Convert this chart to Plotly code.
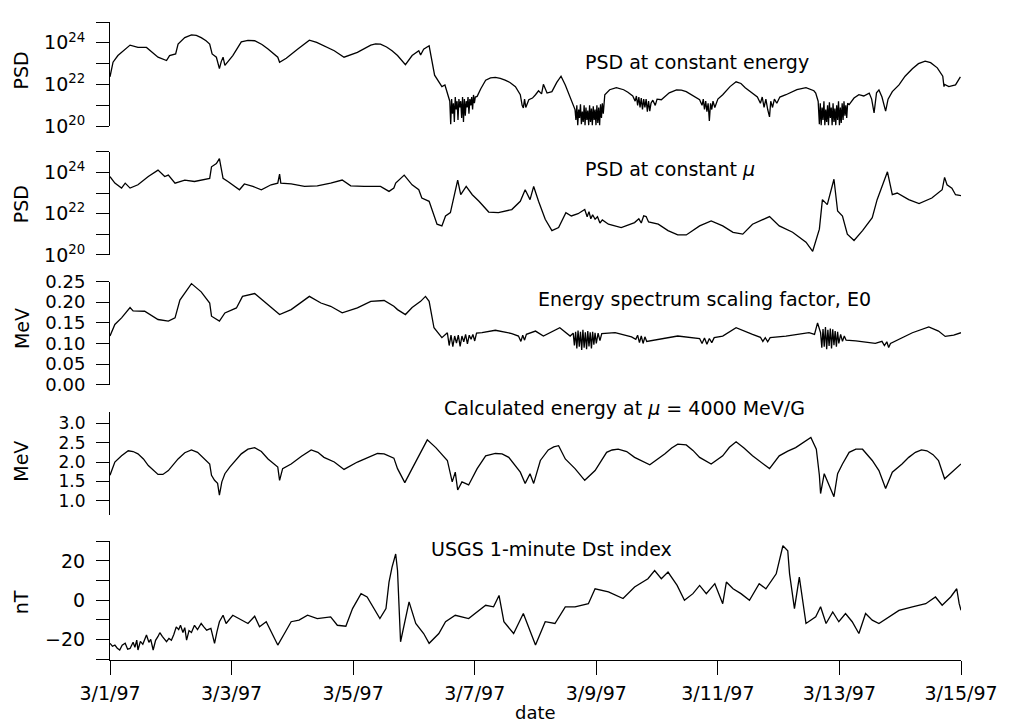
import pandas as pd
import plotly.graph_objects as go

# ---------------- data (days after 1997-03-01 00:00) ----------------
psd_e_days = [0.00, 0.05, 0.13, 0.33, 0.46, 0.60, 0.79, 0.93, 0.98, 1.08, 1.12, 1.23, 1.34, 1.42, 1.50, 1.58,
              1.64, 1.68, 1.75, 1.80, 1.83, 1.86, 1.89, 2.02, 2.16, 2.27, 2.38, 2.50, 2.60, 2.76, 2.79, 2.90,
              3.09, 3.28, 3.40, 3.52, 3.69, 3.85, 4.07, 4.29, 4.37, 4.45, 4.55, 4.64, 4.73, 4.86, 4.97, 5.08,
              5.11, 5.16, 5.25, 5.34, 5.46, 5.51, 5.57,
              5.590, 5.605, 5.620, 5.635, 5.650, 5.665, 5.680, 5.695, 5.710, 5.725, 5.740, 5.755, 5.770, 5.785,
              5.800, 5.815, 5.830, 5.845, 5.860, 5.875, 5.890, 5.905, 5.920, 5.935, 5.950, 5.965, 5.980, 5.995,
              6.010,
              6.04, 6.10, 6.18, 6.26, 6.34, 6.42, 6.50, 6.58, 6.67, 6.75, 6.78, 6.80, 6.82, 6.84, 6.89, 6.95,
              7.00, 7.05, 7.10, 7.13, 7.19, 7.27, 7.35, 7.42, 7.49, 7.57, 7.65,
              7.665, 7.680, 7.695, 7.710, 7.725, 7.740, 7.755, 7.770, 7.785, 7.800, 7.815, 7.830, 7.845, 7.860,
              7.875, 7.890, 7.905, 7.920, 7.935, 7.950, 7.965, 7.980, 7.995, 8.010, 8.025, 8.040, 8.055, 8.070,
              8.085, 8.100, 8.115,
              8.14, 8.22, 8.33, 8.45, 8.52, 8.60, 8.64, 8.66, 8.68, 8.70, 8.72, 8.74, 8.76, 8.78, 8.80, 8.82,
              8.84, 8.86, 8.88, 8.90, 8.93, 8.97, 9.00, 9.07, 9.20, 9.32, 9.40, 9.48, 9.60, 9.70, 9.74, 9.76,
              9.78, 9.80, 9.82, 9.84, 9.86, 9.88, 9.90, 9.92, 9.95, 10.00, 10.08, 10.20, 10.30, 10.38, 10.45,
              10.57, 10.65, 10.70, 10.73, 10.76, 10.79, 10.82, 10.85, 10.87, 10.90, 10.93, 10.97, 11.02, 11.12,
              11.30, 11.45, 11.58, 11.61, 11.65, 11.67,
              11.685, 11.700, 11.715, 11.730, 11.745, 11.760, 11.775, 11.790, 11.805, 11.820, 11.835, 11.850,
              11.865, 11.880, 11.895, 11.910, 11.925, 11.940, 11.955, 11.970, 11.985, 12.000, 12.015, 12.030,
              12.045, 12.060, 12.075, 12.090, 12.105, 12.120, 12.135,
              12.16, 12.24, 12.32, 12.40, 12.49, 12.53, 12.57, 12.61, 12.65, 12.70, 12.76, 12.80, 12.87, 12.98,
              13.08, 13.20, 13.30, 13.41, 13.50, 13.61, 13.70, 13.72, 13.73, 13.80, 13.85, 13.91, 13.99]
psd_e_log10 = [22.37, 23.07, 23.39, 23.89, 23.78, 23.78, 23.31, 23.15, 23.39, 23.47, 23.94, 24.25, 24.38, 24.36, 24.25, 24.10,
               23.94, 23.47, 23.31, 22.76, 23.10, 23.31, 22.92, 23.39, 24.05, 24.12, 24.10, 23.92, 23.70, 23.31, 23.07, 23.26,
               23.70, 24.13, 24.02, 23.86, 23.62, 23.31, 23.54, 23.89, 23.95, 23.94, 23.80, 23.62, 23.39, 22.95, 23.39, 23.62,
               23.42, 23.70, 23.86, 22.45, 21.90, 21.98, 21.43,
               21.20, 20.10, 21.30, 20.60, 21.10, 20.20, 21.40, 20.80, 21.20, 20.30, 21.30, 20.90, 21.20, 20.40,
               21.40, 20.20, 21.30, 20.50, 21.20, 20.90, 21.40, 20.60, 21.30, 21.00, 21.40, 20.80, 21.50, 21.10,
               21.40,
               21.43, 21.80, 22.21, 22.32, 22.34, 22.30, 22.21, 22.10, 21.90, 21.51, 21.00, 20.88, 21.30, 20.90, 21.27, 21.35,
               21.51, 21.70, 21.55, 22.01, 21.59, 21.66, 22.10, 22.40, 21.98, 21.35, 20.80,
               20.30, 21.00, 20.05, 20.80, 20.40, 21.05, 20.10, 20.70, 20.20, 21.00, 20.05, 20.90, 20.30, 20.75,
               20.05, 21.00, 20.20, 20.85, 20.05, 20.95, 20.30, 20.80, 20.05, 21.00, 20.15, 20.90, 20.05, 21.05,
               20.40, 21.10, 20.60,
               21.51, 21.75, 21.85, 21.75, 21.63, 21.45, 21.20, 21.45, 21.00, 21.40, 20.90, 21.35, 20.80, 21.30, 20.90, 21.30,
               20.70, 21.20, 20.72, 21.10, 21.25, 21.00, 21.30, 21.27, 21.60, 21.74, 21.73, 21.66, 21.45, 21.27, 21.00, 21.30,
               20.80, 21.20, 20.70, 21.10, 20.25, 21.10, 20.80, 21.20, 20.90, 21.30, 21.51, 21.90, 22.13, 22.05, 21.85,
               21.59, 21.40, 21.10, 21.40, 20.90, 21.30, 20.80, 20.45, 21.20, 20.90, 21.30, 21.10, 21.40, 21.51,
               21.75, 21.85, 21.70, 21.59, 21.20, 20.09,
               21.10, 20.05, 20.90, 20.30, 21.20, 20.05, 20.80, 20.20, 21.00, 20.05, 21.15, 20.40,
               20.90, 20.05, 21.10, 20.20, 20.85, 20.05, 21.00, 20.30, 21.20, 20.05, 20.90, 20.15,
               21.10, 20.30, 21.20, 20.50, 21.00, 20.40, 21.10,
               21.04, 21.35, 21.51, 21.45, 21.59, 21.30, 20.64, 21.60, 21.74, 21.40, 20.72, 21.30, 21.66, 21.98,
               22.40, 22.76, 23.00, 23.12, 23.05, 22.80, 22.40, 21.90, 22.00, 21.90, 21.95, 21.98, 22.37]

psd_mu_days = [0.00, 0.08, 0.19, 0.25, 0.33, 0.46, 0.63, 0.79, 0.90, 0.96, 1.07, 1.23, 1.39, 1.64, 1.67, 1.75,
               1.80, 1.83, 1.86, 1.94, 2.02, 2.13, 2.21, 2.35, 2.49, 2.65, 2.76, 2.79, 2.81, 2.98, 3.20, 3.41,
               3.63, 3.82, 3.96, 4.18, 4.45, 4.59, 4.67, 4.70, 4.84, 4.97, 5.08, 5.13, 5.25, 5.38, 5.46, 5.52,
               5.60, 5.66, 5.72, 5.77, 5.86, 5.96, 6.07, 6.23, 6.39, 6.61, 6.75, 6.83, 6.91, 6.97, 7.05, 7.16,
               7.27, 7.38, 7.50, 7.59, 7.70, 7.81, 7.85, 7.88, 7.91, 7.94, 7.98, 8.02, 8.06, 8.10, 8.20, 8.41,
               8.63, 8.70, 8.74, 8.78, 8.82, 8.86, 9.02, 9.18, 9.34, 9.48, 9.70, 9.89, 10.08, 10.25, 10.41, 10.57,
               10.85, 11.01, 11.23, 11.45, 11.56, 11.67, 11.72, 11.80, 11.91, 11.97, 12.05, 12.13, 12.24, 12.38,
               12.54, 12.62, 12.70, 12.79, 12.87, 12.95, 13.14, 13.31, 13.52, 13.69, 13.73, 13.77, 13.85, 13.91,
               14.00]
psd_mu_log10 = [23.80, 23.48, 23.24, 23.48, 23.24, 23.40, 23.80, 24.11, 23.80, 23.87, 23.48, 23.63, 23.56, 23.71, 24.27, 24.43,
                24.67, 24.27, 23.71, 23.56, 23.40, 23.16, 23.44, 23.32, 23.16, 23.40, 23.48, 23.92, 23.48, 23.44, 23.32, 23.35,
                23.48, 23.63, 23.35, 23.32, 23.32, 23.08, 23.24, 23.48, 23.87, 23.40, 23.16, 22.76, 22.60, 21.49, 21.41, 21.89,
                22.05, 22.92, 23.63, 22.92, 23.32, 22.92, 22.60, 22.08, 22.05, 22.20, 22.60, 23.16, 22.68, 23.32, 22.60, 21.73,
                21.18, 21.33, 22.05, 21.89, 22.00, 22.20, 21.85, 22.10, 21.75, 21.95, 21.73, 21.85, 21.55, 21.70, 21.49, 21.33,
                21.57, 21.75, 21.55, 21.90, 21.86, 21.60, 21.49, 21.18, 20.97, 20.97, 21.41, 21.65, 21.41, 21.10, 21.01, 21.49,
                21.86, 21.41, 21.10, 20.62, 20.18, 21.25, 22.68, 22.44, 23.67, 22.13, 21.89, 21.01, 20.70, 21.18,
                21.81, 22.68, 23.32, 24.03, 22.92, 23.00, 22.68, 22.49, 22.76, 23.16, 23.76, 23.40, 23.24, 22.92,
                22.87]

e0_days = [0.00, 0.08, 0.19, 0.33, 0.38, 0.57, 0.79, 0.96, 1.07, 1.15, 1.34, 1.50, 1.64, 1.67, 1.80, 1.89,
           2.08, 2.18, 2.38, 2.57, 2.79, 2.98, 3.28, 3.47, 3.63, 3.82, 4.07, 4.29, 4.51, 4.67, 4.73, 4.86,
           4.97, 5.11, 5.19, 5.25, 5.33, 5.46, 5.55,
           5.58, 5.61, 5.64, 5.67, 5.70, 5.73, 5.76, 5.79, 5.82, 5.85, 5.88, 5.91, 5.94, 5.97, 6.00, 6.03,
           6.12, 6.34, 6.61, 6.72, 6.76, 6.79, 6.82, 6.85, 7.00, 7.13, 7.40, 7.57,
           7.62, 7.64, 7.66, 7.68, 7.70, 7.72, 7.74, 7.76, 7.78, 7.80, 7.82, 7.84, 7.86, 7.88, 7.90, 7.92,
           7.94, 7.96, 7.98, 8.00, 8.03, 8.06, 8.09,
           8.31, 8.58, 8.65, 8.68, 8.71, 8.74, 8.77, 8.80, 8.83, 9.34, 9.59, 9.70, 9.74, 9.78, 9.82, 9.86,
           9.90, 9.94, 10.08, 10.30, 10.57, 10.70, 10.74, 10.78, 10.82, 10.86, 11.12, 11.50, 11.59, 11.64,
           11.69, 11.71, 11.73, 11.75, 11.77, 11.79, 11.81, 11.83, 11.85, 11.87, 11.89, 11.91, 11.93, 11.95,
           11.97, 11.99, 12.02, 12.05, 12.08, 12.11, 12.27, 12.59, 12.70, 12.74, 12.78, 12.81, 12.84, 12.98,
           13.20, 13.47, 13.63, 13.74, 13.88, 14.00]
e0_mev = [0.118, 0.146, 0.162, 0.187, 0.179, 0.178, 0.158, 0.154, 0.162, 0.205, 0.245, 0.225, 0.198, 0.166, 0.154, 0.174,
          0.186, 0.214, 0.221, 0.198, 0.170, 0.182, 0.214, 0.198, 0.190, 0.174, 0.186, 0.202, 0.204, 0.190, 0.182, 0.170,
          0.187, 0.202, 0.214, 0.202, 0.138, 0.114, 0.126,
          0.095, 0.120, 0.092, 0.118, 0.101, 0.120, 0.093, 0.118, 0.104, 0.122, 0.099, 0.120, 0.110, 0.122, 0.106, 0.125,
          0.126, 0.132, 0.124, 0.118, 0.105, 0.120, 0.108, 0.122, 0.130, 0.118, 0.138, 0.118,
          0.125, 0.095, 0.128, 0.088, 0.131, 0.092, 0.128, 0.084, 0.133, 0.090, 0.127, 0.086, 0.130, 0.093, 0.127, 0.088,
          0.128, 0.097, 0.126, 0.100, 0.125, 0.107, 0.124,
          0.126, 0.116, 0.110, 0.120, 0.102, 0.118, 0.100, 0.116, 0.105, 0.118, 0.114, 0.112, 0.100, 0.113, 0.098, 0.112,
          0.102, 0.114, 0.118, 0.138, 0.122, 0.115, 0.105, 0.114, 0.104, 0.114, 0.118, 0.126, 0.122, 0.150,
          0.126, 0.090, 0.135, 0.092, 0.140, 0.086, 0.133, 0.094, 0.136, 0.088, 0.134, 0.096, 0.130, 0.092,
          0.128, 0.100, 0.122, 0.105, 0.118, 0.108, 0.106, 0.100, 0.105, 0.095, 0.104, 0.090, 0.100, 0.110,
          0.126, 0.140, 0.130, 0.117, 0.120, 0.126]

emu_days = [0.00, 0.08, 0.19, 0.30, 0.38, 0.46, 0.55, 0.63, 0.79, 0.87,
            0.96, 1.12, 1.23, 1.34, 1.44, 1.53, 1.64, 1.67, 1.72, 1.77,
            1.80, 1.84, 1.89, 1.97, 2.16, 2.27, 2.38, 2.49, 2.60, 2.76,
            2.79, 2.84, 2.98, 3.15, 3.31, 3.42, 3.52, 3.69, 3.85, 4.07,
            4.29, 4.40, 4.51, 4.67, 4.73, 4.85, 4.97, 5.11, 5.22, 5.36,
            5.55, 5.63, 5.68, 5.72, 5.79, 5.90, 6.04, 6.18, 6.34, 6.45,
            6.56, 6.75, 6.83, 6.91, 6.97, 7.08, 7.21, 7.30, 7.38, 7.49,
            7.65, 7.81, 7.98, 8.17, 8.26, 8.36, 8.50, 8.63, 8.88, 9.13,
            9.24, 9.34, 9.48, 9.59, 9.70, 9.89, 10.08, 10.19, 10.30, 10.43,
            10.57, 10.85, 11.01, 11.15, 11.28, 11.53, 11.62, 11.67, 11.69, 11.75,
            11.83, 11.91, 11.97, 12.05, 12.16, 12.27, 12.38, 12.54, 12.65, 12.76,
            12.87, 13.03, 13.14, 13.25, 13.35, 13.44, 13.54, 13.63, 13.73, 13.85,
            14.00]
emu_mev = [1.66, 2.00, 2.16, 2.29, 2.27, 2.21, 2.08, 1.91, 1.68, 1.68,
           1.78, 2.08, 2.24, 2.31, 2.25, 2.12, 1.95, 1.66, 1.53, 1.45,
           1.15, 1.49, 1.70, 1.87, 2.21, 2.33, 2.37, 2.27, 2.08, 1.87,
           1.53, 1.83, 1.95, 2.15, 2.31, 2.25, 2.12, 2.00, 1.81, 2.00,
           2.16, 2.22, 2.21, 2.10, 1.83, 1.47, 1.83, 2.25, 2.57, 2.37,
           2.04, 1.49, 1.74, 1.28, 1.49, 1.41, 1.83, 2.16, 2.22, 2.21,
           2.12, 1.74, 1.45, 1.70, 1.45, 2.04, 2.31, 2.39, 2.42, 2.08,
           1.83, 1.53, 1.78, 2.25, 2.31, 2.33, 2.27, 2.12, 1.93, 2.21,
           2.36, 2.46, 2.44, 2.30, 2.12, 1.95, 2.16, 2.38, 2.52, 2.36,
           2.16, 1.83, 2.16, 2.28, 2.37, 2.63, 2.33, 1.66, 1.19, 1.70,
           1.41, 1.11, 1.70, 1.95, 2.25, 2.33, 2.33, 2.04, 1.78, 1.32,
           1.74, 1.95, 2.12, 2.25, 2.31, 2.29, 2.19, 2.04, 1.57, 1.74,
           1.95]

dst_days = [0.00, 0.04, 0.08, 0.12, 0.16, 0.20, 0.25, 0.29, 0.33, 0.38, 0.41, 0.44, 0.46, 0.50, 0.54, 0.57,
            0.60, 0.64, 0.67, 0.71, 0.75, 0.79, 0.82, 0.86, 0.90, 0.93, 0.97, 1.01, 1.05, 1.09, 1.13, 1.16,
            1.20, 1.23, 1.26, 1.30, 1.34, 1.39, 1.44, 1.50, 1.54, 1.59, 1.66, 1.69, 1.72, 1.76, 1.80, 1.86,
            1.91, 2.02, 2.16, 2.27, 2.38, 2.46, 2.57, 2.65, 2.76, 2.87, 2.98,
            3.11, 3.25, 3.41, 3.63, 3.74, 3.88, 3.99, 4.13, 4.23, 4.34, 4.44, 4.54, 4.59, 4.64, 4.70, 4.73,
            4.78, 4.92, 5.03, 5.16, 5.25, 5.41, 5.52, 5.68, 5.90, 6.18, 6.31, 6.40, 6.48, 6.64, 6.80, 7.00,
            7.16, 7.32, 7.49, 7.65, 7.87, 7.98, 8.20, 8.44, 8.63, 8.85, 8.96, 9.07, 9.18, 9.33, 9.45, 9.59,
            9.70, 9.81, 9.95, 10.08, 10.14, 10.25, 10.38, 10.52, 10.68, 10.79, 10.96, 11.07, 11.15, 11.18, 11.26, 11.34,
            11.39, 11.45, 11.61, 11.69, 11.78, 11.89, 11.99, 12.10, 12.21, 12.32, 12.43, 12.54, 12.65, 12.81, 12.98, 13.20,
            13.42, 13.58, 13.69, 13.83, 13.93, 13.97, 14.00]
dst_nt = [-22.0, -23.5, -22.9, -24.5, -25.4, -23.0, -22.0, -25.0, -24.6, -21.5, -24.0, -20.4, -25.4, -21.0, -22.5, -19.5,
          -17.8, -21.5, -20.0, -25.4, -20.5, -18.5, -16.6, -18.5, -20.0, -21.2, -19.5, -20.4, -17.5, -13.6, -15.0, -12.8,
          -16.5, -14.0, -20.4, -15.5, -16.5, -12.8, -15.0, -11.9, -13.5, -15.3, -14.4, -18.0, -22.0, -16.0, -11.0, -7.7,
          -11.9, -7.7, -10.2, -11.9, -8.2, -13.6, -11.0, -16.1, -22.9, -17.0, -11.0,
          -10.2, -7.7, -9.4, -8.5, -12.8, -13.3, -4.3, 3.3, 1.6, -4.3, -9.4, -4.3, 9.2, 16.8, 23.5, 15.1,
          -21.2, -0.9, -11.9, -17.0, -22.0, -17.0, -11.0, -7.7, -9.4, -2.6, -3.4, 2.4, -11.0, -17.0, -6.8, -22.9,
          -11.0, -11.9, -3.4, -3.4, -1.8, 5.8, 4.2, 0.8, 6.7, 10.9, 15.1, 10.9, 14.3, 7.5, -0.1, 3.3,
          7.5, 3.3, 8.4, -1.8, 9.2, 5.8, 3.3, -0.1, 8.4, 5.8, 13.4, 27.7, 25.2, 13.4, -4.3, 11.7,
          1.6, -11.9, -8.5, -3.4, -11.9, -6.0, -11.0, -6.8, -11.0, -17.0, -6.8, -10.2, -11.9, -8.5, -5.2, -3.4,
          -1.8, 1.6, -2.6, 1.6, 5.8, -1.8, -5.2]

assert len(psd_e_days) == len(psd_e_log10)
assert len(psd_mu_days) == len(psd_mu_log10)
assert len(e0_days) == len(e0_mev)
assert len(emu_days) == len(emu_mev)
assert len(dst_days) == len(dst_nt)

date_tick_days = [0, 2, 4, 6, 8, 10, 12, 14]
date_tick_text = ["3/1/97", "3/3/97", "3/5/97", "3/7/97", "3/9/97", "3/11/97", "3/13/97", "3/15/97"]

psd_major = [1e20, 1e22, 1e24]
psd_major_text = ["10<sup>20</sup>", "10<sup>22</sup>", "10<sup>24</sup>"]
psd_minor = [1e21, 1e23, 1e25]
e0_ticks = [0, 0.05, 0.10, 0.15, 0.20, 0.25]
emu_ticks = [1.0, 1.5, 2.0, 2.5, 3.0]
dst_major = [-20, 0, 20]
dst_minor = [-30, -10, 10, 30]

panel_titles = ["PSD at constant energy", "PSD at constant <i>μ</i>",
                "Energy spectrum scaling factor, E0",
                "Calculated energy at <i>μ</i> = 4000 MeV/G", "USGS 1-minute Dst index"]
y_titles = ["PSD", "PSD", "MeV", "MeV", "nT"]

# ---------------- figure ----------------
T0 = pd.Timestamp("1997-03-01")


def to_time(days):
    return T0 + pd.to_timedelta(days, unit="D")


FONT = "DejaVu Sans"
W, H = 1009, 725
ML, MR, MT, MB = 110, 45, 11, 65
PW, PH = W - ML - MR, H - MT - MB


def px(x):
    return (x - ML) / PW


def py(y):
    return (H - MB - y) / PH


fig = go.Figure()
series = [
    (psd_e_days, [10 ** v for v in psd_e_log10], "y"),
    (psd_mu_days, [10 ** v for v in psd_mu_log10], "y2"),
    (e0_days, e0_mev, "y3"),
    (emu_days, emu_mev, "y4"),
    (dst_days, dst_nt, "y5"),
]
for d, v, ya in series:
    fig.add_trace(go.Scatter(x=to_time(d), y=v, mode="lines", xaxis="x", yaxis=ya,
                             line=dict(color="black", width=1.3), showlegend=False,
                             hoverinfo="skip"))


def yax(size):
    return dict(showline=True, linecolor="black", linewidth=1, ticks="outside", ticklen=13,
                tickwidth=1, tickcolor="black", showgrid=False, zeroline=False, anchor="x",
                tickfont=dict(family=FONT, size=size, color="black"), ticklabelstandoff=7)


minor_common = dict(ticks="outside", ticklen=13, tickwidth=1, tickcolor="black", showgrid=False)

domains = [(11, 117), (143, 248), (275, 380), (408, 512), (539, 660)]

fig.update_layout(
    width=W, height=H, margin=dict(l=ML, r=MR, t=MT, b=MB),
    paper_bgcolor="white", plot_bgcolor="white",
    font=dict(family=FONT, size=19, color="black"),
    xaxis=dict(type="date", range=[to_time(0), to_time(14)], anchor="y5",
               tickvals=to_time(date_tick_days), ticktext=date_tick_text,
               showline=True, linecolor="black", linewidth=1, ticks="outside", ticklen=14,
               tickcolor="black", showgrid=False, zeroline=False,
               tickfont=dict(family=FONT, size=19, color="black"), ticklabelstandoff=2),
    yaxis=dict(domain=[py(domains[0][1]), py(domains[0][0])], type="log", range=[20, 25],
               tickvals=psd_major, ticktext=psd_major_text,
               minor=dict(tickvals=psd_minor, **minor_common), **yax(19)),
    yaxis2=dict(domain=[py(domains[1][1]), py(domains[1][0])], type="log", range=[20, 25],
                tickvals=psd_major, ticktext=psd_major_text,
                minor=dict(tickvals=psd_minor, **minor_common), **yax(19)),
    yaxis3=dict(domain=[py(domains[2][1]), py(domains[2][0])], range=[0, 0.25],
                tickvals=e0_ticks, tickformat=".2f", **yax(18)),
    yaxis4=dict(domain=[py(domains[3][1]), py(domains[3][0])], range=[0.65, 3.28],
                tickvals=emu_ticks, tickformat=".1f", **yax(17)),
    yaxis5=dict(domain=[0, py(domains[4][0])], range=[-30.5, 30.1],
                tickvals=dst_major, minor=dict(tickvals=dst_minor, **minor_common),
                **yax(19)),
)

ann_x = [699, 672, 707, 626, 553]
ann_y = [52, 161, 293, 404, 547]
for t, x, y in zip(panel_titles, ann_x, ann_y):
    fig.add_annotation(text=t, x=px(x), y=py(y), xref="paper", yref="paper", showarrow=False,
                       xanchor="center", yanchor="middle", font=dict(family=FONT, size=19, color="black"))

yt_y = [60, 196, 323, 458, 601]
for t, y in zip(y_titles, yt_y):
    fig.add_annotation(text=t, x=px(21), y=py(y), xref="paper", yref="paper", showarrow=False,
                       textangle=-90, xanchor="center", yanchor="middle",
                       font=dict(family=FONT, size=19, color="black"))

fig.add_annotation(text="date", x=px(537), y=py(713), xref="paper", yref="paper", showarrow=False,
                   xanchor="center", yanchor="middle", font=dict(family=FONT, size=18, color="black"))

fig.write_html("out.html")
